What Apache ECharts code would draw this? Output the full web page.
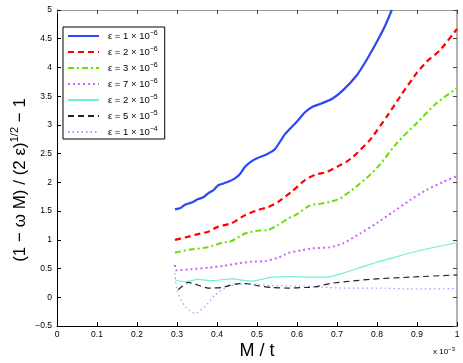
<!DOCTYPE html>
<html><head><meta charset="utf-8">
<script src="https://cdn.jsdelivr.net/npm/echarts@6/dist/echarts.min.js"></script>
<style>html,body{margin:0;padding:0;background:#fff}#c{width:463px;height:363px}</style>
</head><body><div id="c"></div>
<script>
// ---- data (x in units of 1e-3) ----
var xTicks = [0,0.1,0.2,0.3,0.4,0.5,0.6,0.7,0.8,0.9,1];
var yTicks = [-0.5,0,0.5,1,1.5,2,2.5,3,3.5,4,4.5,5];

var legendMant = ['1','2','3','7','2','5','1'];
var legendExp  = ['\u22126','\u22126','\u22126','\u22126','\u22125','\u22125','\u22124'];

var xE1e6 = [0.295,0.31,0.32,0.337,0.353,0.366,0.378,0.392,0.403,0.416,0.428,0.445,0.458,0.47,0.485,0.50,0.525,0.545,0.57,0.60,0.62,0.64,0.66,0.687,0.716,0.749,0.774,0.80,0.82,0.837];
var yE1e6 = [1.53,1.56,1.61,1.65,1.71,1.74,1.81,1.87,1.95,1.98,2.01,2.07,2.15,2.27,2.36,2.42,2.49,2.58,2.84,3.06,3.22,3.32,3.37,3.45,3.61,3.86,4.13,4.45,4.72,5.0];

var xE2e6 = [0.295,0.32,0.353,0.378,0.403,0.437,0.47,0.503,0.528,0.553,0.587,0.62,0.645,0.674,0.70,0.724,0.741,0.7825,0.824,0.8575,0.899,0.924,0.9575,1.0];
var yE2e6 = [1.0,1.04,1.10,1.14,1.23,1.29,1.43,1.52,1.57,1.66,1.84,2.04,2.13,2.18,2.27,2.36,2.45,2.74,3.14,3.49,3.90,4.10,4.30,4.67];

var xE3e6 = [0.295,0.303,0.337,0.378,0.412,0.437,0.47,0.503,0.528,0.553,0.578,0.603,0.6325,0.66,0.6825,0.7075,0.7325,0.7575,0.7825,0.8075,0.849,0.899,0.949,1.0];
var yE3e6 = [0.78,0.79,0.835,0.87,0.95,0.98,1.11,1.16,1.17,1.26,1.37,1.46,1.60,1.63,1.66,1.72,1.84,1.98,2.13,2.31,2.68,3.03,3.38,3.64];

var xE7e6 = [0.295,0.297,0.337,0.378,0.42,0.453,0.487,0.52,0.553,0.578,0.612,0.637,0.6825,0.716,0.7575,0.799,0.841,0.8825,0.924,0.966,1.0];
var yE7e6 = [0.56,0.47,0.49,0.515,0.55,0.59,0.62,0.63,0.69,0.77,0.82,0.85,0.87,0.94,1.11,1.29,1.49,1.69,1.87,2.01,2.11];

var xE2e5 = [0.295,0.32,0.353,0.387,0.437,0.487,0.537,0.587,0.64,0.674,0.716,0.7575,0.799,0.841,0.8825,0.924,1.0];
var yE2e5 = [0.30,0.27,0.31,0.29,0.32,0.28,0.35,0.36,0.35,0.35,0.42,0.515,0.61,0.69,0.77,0.84,0.95];

var xE5e5 = [0.303,0.328,0.353,0.378,0.412,0.445,0.47,0.503,0.537,0.578,0.62,0.645,0.6825,0.7325,0.799,0.8825,1.0];
var yE5e5 = [0.13,0.26,0.21,0.16,0.17,0.23,0.24,0.20,0.17,0.16,0.17,0.18,0.24,0.28,0.32,0.35,0.39];

var xE1e4 = [0.295,0.30,0.32,0.345,0.37,0.395,0.42,0.453,0.487,0.537,0.603,0.65,0.716,0.8,0.8825,1.0];
var yE1e4 = [0.42,0.12,-0.16,-0.28,-0.16,0.04,0.16,0.23,0.23,0.20,0.20,0.18,0.16,0.16,0.145,0.15];

var seriesX = [xE1e6,xE2e6,xE3e6,xE7e6,xE2e5,xE5e5,xE1e4];
var seriesY = [yE1e6,yE2e6,yE3e6,yE7e6,yE2e5,yE5e5,yE1e4];
var styles = [
  {color:'#2a48f5', width:2.2, type:'solid'},
  {color:'#ff0000', width:2.2, type:[6,4]},
  {color:'#66e000', width:2, type:[6,3,2,3]},
  {color:'#c866ff', width:2, type:[2,3]},
  {color:'#70f0d8', width:1.2, type:'solid'},
  {color:'#222222', width:1.2, type:[6,4]},
  {color:'#9aa0ff', width:1.2, type:[1.5,3]}
];

function zip(a,b){var r=[];for(var i=0;i<a.length;i++)r.push([a[i],b[i]]);return r;}
var names = legendMant.map(function(m,i){return 'e'+i;});
var series = seriesX.map(function(xs,i){
  return {name:names[i], type:'line', data:zip(xs,seriesY[i]), symbol:'none', showSymbol:false, smooth:0.2,
    lineStyle:{color:styles[i].color,width:styles[i].width,type:styles[i].type},
    itemStyle:{color:styles[i].color}, xAxisIndex:0, yAxisIndex:0, z:10-i};
});

var font = 'Liberation Sans, Arial, Helvetica, sans-serif';
var chart = echarts.init(document.getElementById('c'), null, {renderer:'canvas'});
var baseX = {type:'value', min:0, max:1, interval:0.1, splitLine:{show:false}};
var baseY = {type:'value', min:-0.5, max:5, interval:0.5, splitLine:{show:false}};
chart.setOption({
  animation:false,
  backgroundColor:'#fff',
  grid:{left:57, right:6, top:10, bottom:37, containLabel:false},
  xAxis:[
    Object.assign({}, baseX, {position:'bottom',
      axisLine:{onZero:false, lineStyle:{color:'#000', width:1}},
      axisTick:{inside:true, length:4, lineStyle:{color:'#000'}},
      axisLabel:{margin:4, fontSize:8.5, color:'#000', fontFamily:font,
        formatter:function(v){var k=Math.round(v*10); return k===10?'1':(k===0?'0':'0.'+k);}}}),
    Object.assign({}, baseX, {position:'top',
      axisLine:{onZero:false, lineStyle:{color:'#999', width:1}},
      axisTick:{inside:true, length:4, lineStyle:{color:'#444'}},
      axisLabel:{show:false}})
  ],
  yAxis:[
    Object.assign({}, baseY, {position:'left',
      axisLine:{show:true, onZero:false, lineStyle:{color:'#000', width:1}},
      axisTick:{show:true, inside:true, length:4, lineStyle:{color:'#000'}},
      axisLabel:{margin:5, fontSize:8.5, color:'#000', fontFamily:font,
        formatter:function(v){return String(v).replace('-','\u2212');}}}),
    Object.assign({}, baseY, {position:'right',
      axisLine:{show:true, onZero:false, lineStyle:{color:'#999', width:1.5}},
      axisTick:{show:true, inside:true, length:4, lineStyle:{color:'#444'}},
      axisLabel:{show:false}})
  ],
  legend:{
    orient:'vertical', left:63, top:27, data:names,
    backgroundColor:'#fff', borderColor:'#000', borderWidth:1,
    padding:[3,7,2,4], itemWidth:31, itemHeight:10, itemGap:5,
    itemStyle:{opacity:0},
    textStyle:{fontSize:9.5, color:'#000', fontFamily:font, padding:[0,0,0,4],
      rich:{sup:{fontSize:7, verticalAlign:'top', padding:[0,0,5,0], fontFamily:font, color:'#000'}}},
    formatter:function(n){var i=names.indexOf(n); return '\u03b5 = '+legendMant[i]+' \u00d7 10{sup|'+legendExp[i]+'}';}
  },
  graphic:[
    {type:'text', style:{text:'M / t', font:'18px '+font, fill:'#000', x:257, y:351, align:'center', verticalAlign:'middle'}},
    {type:'text', style:{text:'x 10{s|\u22123}', x:433, y:352, verticalAlign:'middle', font:'8px '+font, fill:'#000',
      rich:{s:{fontSize:6, padding:[0,0,6,0], fontFamily:font}}}},
    {type:'text', x:20, y:180, rotation:Math.PI/2,
      style:{text:'(1 \u2212 \u03c9 M) / (2 \u03b5){s|1/2} \u2212 1', font:'17px '+font, fill:'#000', align:'center', verticalAlign:'middle',
      rich:{s:{fontSize:11, padding:[0,0,10,0], fontFamily:font}}}}
  ],
  series:series
});
</script></body></html>
